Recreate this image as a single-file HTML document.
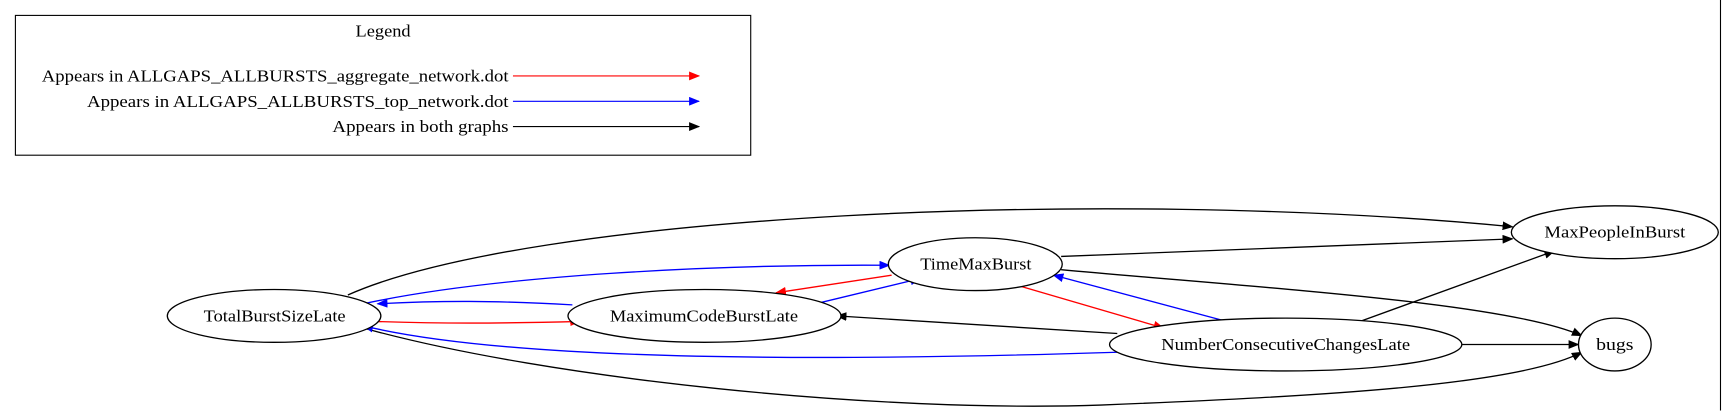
<!DOCTYPE html>
<html><head><style>html,body{margin:0;padding:0;background:#fff;}svg{display:block}</style></head>
<body>
<svg width="1726" height="411" viewBox="0 0 1568 373.4" preserveAspectRatio="none" xmlns="http://www.w3.org/2000/svg" font-family="Liberation Serif, serif" font-size="15">
<defs>
<marker id="ak" markerWidth="10" markerHeight="8" refX="9" refY="4" orient="auto" markerUnits="userSpaceOnUse"><path d="M0,0 L10,4 L0,8z" fill="#000"/></marker>
<marker id="ar" markerWidth="10" markerHeight="8" refX="9" refY="4" orient="auto" markerUnits="userSpaceOnUse"><path d="M0,0 L10,4 L0,8z" fill="#f00"/></marker>
<marker id="ab" markerWidth="10" markerHeight="8" refX="9" refY="4" orient="auto" markerUnits="userSpaceOnUse"><path d="M0,0 L10,4 L0,8z" fill="#00f"/></marker>
</defs>
<rect x="14" y="14" width="668" height="127" fill="none" stroke="#000"/>
<line x1="1563" y1="0" x2="1563" y2="373" stroke="#000"/>
<text x="323" y="33" textLength="50" lengthAdjust="spacingAndGlyphs">Legend</text>
<text x="38" y="74" textLength="424" lengthAdjust="spacingAndGlyphs">Appears in ALLGAPS_ALLBURSTS_aggregate_network.dot</text>
<line x1="466" y1="69" x2="635" y2="69" stroke="#f00" marker-end="url(#ar)"/>
<text x="79" y="97" textLength="383" lengthAdjust="spacingAndGlyphs">Appears in ALLGAPS_ALLBURSTS_top_network.dot</text>
<line x1="466" y1="92" x2="635" y2="92" stroke="#00f" marker-end="url(#ab)"/>
<text x="302" y="120" textLength="160" lengthAdjust="spacingAndGlyphs">Appears in both graphs</text>
<line x1="466" y1="115" x2="635" y2="115" stroke="#000" marker-end="url(#ak)"/>

<g fill="none" stroke-width="1.2">
<path d="M316,268 C480,195 1000,170 1374,206" stroke="#000" marker-end="url(#ak)"/>
<path d="M964,233 L1374,217" stroke="#000" marker-end="url(#ak)"/>
<path d="M964,245 C1150,262 1370,275 1437,305" stroke="#000" marker-end="url(#ak)"/>
<path d="M1230,294 L1412,228" stroke="#000" marker-end="url(#ak)"/>
<path d="M1328,313 L1434,313" stroke="#000" marker-end="url(#ak)"/>
<path d="M330,298 C500,345 800,375 1000,368 C1200,360 1380,350 1437,320" stroke="#000" marker-end="url(#ak)"/>
<path d="M330,276 C450,250 650,240 808,241" stroke="#00f" marker-end="url(#ab)"/>
<path d="M745,275 L836,253" stroke="#00f" marker-end="url(#ab)"/>
<path d="M810,250 L705,266" stroke="#f00" marker-end="url(#ar)"/>
<path d="M520,277 C450,273 400,273 343,276" stroke="#00f" marker-end="url(#ab)"/>
<path d="M340,292 C400,294 450,294 527,292" stroke="#f00" marker-end="url(#ar)"/>
<path d="M920,258 L1057,298" stroke="#f00" marker-end="url(#ar)"/>
<path d="M1118,293 L957,250" stroke="#00f" marker-end="url(#ab)"/>
<path d="M1015,303 L760,287" stroke="#000" marker-end="url(#ak)"/>
<path d="M1015,320 C700,330 450,325 330,296" stroke="#00f" marker-end="url(#ab)"/>
</g>

<g fill="#fff" stroke="#000" stroke-width="1.2">
<ellipse cx="249" cy="287" rx="97" ry="24"/>
<ellipse cx="640" cy="287" rx="124" ry="24"/>
<ellipse cx="886" cy="240" rx="79" ry="24"/>
<ellipse cx="1467" cy="211" rx="94" ry="24"/>
<ellipse cx="1168" cy="313" rx="160" ry="24"/>
<ellipse cx="1467" cy="313" rx="33" ry="24"/>
</g>
<g>
<text x="185" y="292" textLength="129" lengthAdjust="spacingAndGlyphs">TotalBurstSizeLate</text>
<text x="554" y="292" textLength="171" lengthAdjust="spacingAndGlyphs">MaximumCodeBurstLate</text>
<text x="836" y="245" textLength="101" lengthAdjust="spacingAndGlyphs">TimeMaxBurst</text>
<text x="1403" y="216" textLength="128" lengthAdjust="spacingAndGlyphs">MaxPeopleInBurst</text>
<text x="1055" y="318" textLength="226" lengthAdjust="spacingAndGlyphs">NumberConsecutiveChangesLate</text>
<text x="1450" y="318" textLength="34" lengthAdjust="spacingAndGlyphs">bugs</text>
</g>
</svg>
</body></html>
